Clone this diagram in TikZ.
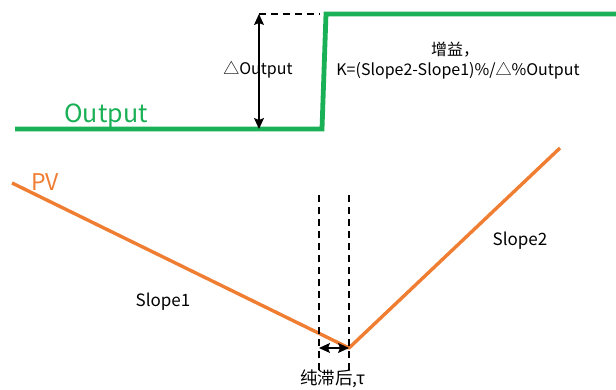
\documentclass[tikz,border=0pt]{standalone}
\usepackage{fontspec}
\setmainfont{Noto Sans CJK SC}
\usetikzlibrary{arrows.meta}
\definecolor{outgreen}{RGB}{26,176,86}
\definecolor{pvorange}{RGB}{239,125,50}
\tikzset{
  outline/.style={outgreen, line width=4.8pt, line join=miter},
  pvline/.style={pvorange, line width=3.4pt, line join=round},
  guide/.style={black, line width=1.3pt, dash pattern=on 7pt off 5pt},
  dimarrow/.style={black, line width=1.2pt, {Stealth[length=11pt,width=10pt,inset=2pt]}-{Stealth[length=11pt,width=10pt,inset=2pt]}},
  lbl/.style={font=\fontsize{16}{18}\selectfont, inner sep=0pt},
}
\begin{document}
\begin{tikzpicture}[x=1pt,y=-1pt]
\useasboundingbox (0,0) rectangle (616,390);
% controller output step
\coordinate (o0) at (15,129);
\coordinate (o1) at (322,129);
\coordinate (o2) at (326,14);
\coordinate (o3) at (618,14);
\draw[outline] (o0) -- (o1) -- (o2) -- (o3);
% step height
\coordinate (dtop) at (259,14);
\coordinate (dbot) at (259,129);
\draw[guide] (dtop) -- (320,14);
\draw[dimarrow] (dtop) -- (dbot);
\node[lbl] (dout) at (258,70) {△Output};
\node[lbl] (gain1) at (455,50) {增益，};
\node[lbl] (gain2) at (458,71) {K=(Slope2-Slope1)\%/△\%Output};
\node[outgreen, inner sep=0pt, font=\fontsize{25}{27}\selectfont] (outlbl) at (106,116) {Output};
% process variable response
\coordinate (p0) at (12,183);
\coordinate (p1) at (349,348);
\coordinate (p2) at (560,148);
\draw[pvline] (p0) -- (p1) -- (p2);
\node[pvorange, inner sep=0pt, font=\fontsize{23}{25}\selectfont] (pvlbl) at (45,182) {PV};
\node[lbl, font=\fontsize{17}{19}\selectfont] (s1) at (163,302) {Slope1};
\node[lbl, font=\fontsize{17}{19}\selectfont] (s2) at (520,241) {Slope2};
% dead time
\coordinate (t0a) at (319,195);
\coordinate (t0b) at (319,370);
\coordinate (t1a) at (349,195);
\coordinate (t1b) at (349,370);
\draw[guide] (t0a) -- (t0b);
\draw[guide] (t1a) -- (t1b);
\coordinate (ta) at (319,348);
\coordinate (tb) at (349,348);
\draw[dimarrow] (ta) -- (tb);
\node[lbl, font=\fontsize{17.5}{19}\selectfont] (tau) at (333,379) {纯滞后,τ};
\end{tikzpicture}
\end{document}
